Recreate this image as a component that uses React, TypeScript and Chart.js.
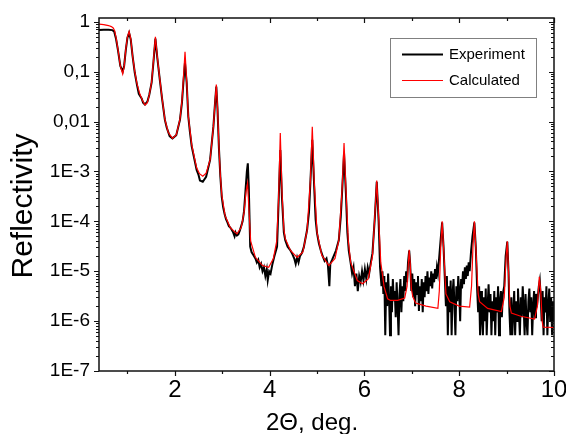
import React, { useEffect, useRef } from "react";
import { Chart, registerables } from "chart.js";

Chart.register(...registerables);

const seriesNames = ["Experiment", "Calculated"];
const xTitle = "2\u0398, deg.";
const yTitle = "Reflectivity";

const xTicks = [2, 4, 6, 8, 10];
const xTickLabels = ["2", "4", "6", "8", "10"];
const yTicks = [1, 0.1, 0.01, 1e-3, 1e-4, 1e-5, 1e-6, 1e-7];
const yTickLabels = ["1", "0,1", "0,01", "1E-3", "1E-4", "1E-5", "1E-6", "1E-7"];

const expX = [
  0.40, 0.50, 0.60, 0.68, 0.72, 0.76, 0.80, 0.85, 0.90, 0.93,
  0.965, 1.00, 1.035, 1.07, 1.11, 1.155, 1.20, 1.24, 1.27, 1.30,
  1.33, 1.37, 1.42, 1.46, 1.51, 1.55, 1.59, 1.63, 1.684, 1.73,
  1.79, 1.83, 1.86, 1.89, 1.95, 2.03, 2.108, 2.15, 2.18, 2.214,
  2.25, 2.284, 2.32, 2.356, 2.40, 2.46, 2.50, 2.53, 2.59, 2.66,
  2.744, 2.814, 2.85, 2.875, 2.90, 2.93, 2.96, 2.99, 3.02, 3.05,
  3.08, 3.11, 3.14, 3.17, 3.20, 3.23, 3.26, 3.28, 3.31, 3.34,
  3.37, 3.40, 3.43, 3.46, 3.49, 3.52, 3.54, 3.56, 3.59, 3.62,
  3.66, 3.70, 3.73, 3.76, 3.79, 3.82, 3.85, 3.88, 3.91, 3.94,
  3.96, 3.99, 4.02, 4.06, 4.10, 4.157, 4.19, 4.226, 4.26, 4.30,
  4.33, 4.38, 4.44, 4.48, 4.52, 4.55, 4.58, 4.61, 4.64, 4.68,
  4.72, 4.79, 4.83, 4.86, 4.90, 4.94, 4.97, 5.00, 5.04, 5.08,
  5.12, 5.16, 5.20, 5.23, 5.26, 5.28, 5.32, 5.36, 5.40, 5.46,
  5.50, 5.53, 5.57, 5.61, 5.64, 5.67, 5.71, 5.74, 5.77, 5.80,
  5.83, 5.86, 5.89, 5.92, 5.95, 5.98, 6.01, 6.04, 6.07, 6.10,
  6.13, 6.17, 6.22, 6.26, 6.30, 6.33, 6.36, 6.38, 6.40, 6.42,
  6.44, 6.46, 6.48, 6.50, 6.52, 6.54, 6.56, 6.58, 6.60, 6.62,
  6.64, 6.66, 6.68, 6.70, 6.72, 6.74, 6.76, 6.78, 6.80, 6.82,
  6.84, 6.86, 6.88, 6.90, 6.92, 6.945, 6.965, 6.99, 7.01, 7.03,
  7.05, 7.07, 7.09, 7.11, 7.13, 7.15, 7.17, 7.19, 7.21, 7.23,
  7.25, 7.27, 7.29, 7.31, 7.33, 7.35, 7.37, 7.39, 7.41, 7.43,
  7.45, 7.47, 7.49, 7.51, 7.53, 7.55, 7.58, 7.61, 7.64, 7.67,
  7.70, 7.72, 7.74, 7.76, 7.78, 7.80, 7.82, 7.84, 7.86, 7.88,
  7.90, 7.92, 7.94, 7.96, 7.98, 8.00, 8.02, 8.04, 8.06, 8.08,
  8.10, 8.12, 8.14, 8.16, 8.18, 8.20, 8.22, 8.25, 8.28, 8.32,
  8.35, 8.38, 8.40, 8.42, 8.44, 8.46, 8.48, 8.50, 8.52, 8.54,
  8.56, 8.58, 8.60, 8.62, 8.64, 8.66, 8.68, 8.70, 8.72, 8.74,
  8.76, 8.78, 8.80, 8.82, 8.84, 8.86, 8.88, 8.90, 8.92, 8.95,
  8.98, 9.015, 9.04, 9.06, 9.08, 9.10, 9.12, 9.14, 9.16, 9.18,
  9.20, 9.22, 9.24, 9.26, 9.28, 9.30, 9.32, 9.34, 9.36, 9.38,
  9.40, 9.42, 9.44, 9.46, 9.48, 9.50, 9.52, 9.54, 9.56, 9.58,
  9.60, 9.62, 9.65, 9.68, 9.70, 9.72, 9.74, 9.76, 9.78, 9.80,
  9.82, 9.84, 9.86, 9.88, 9.90, 9.92, 9.94, 9.96, 9.98, 10.0,
];

const expY = [
  0.68, 0.69, 0.69, 0.68, 0.64, 0.45, 0.27, 0.13, 0.10, 0.13,
  0.27, 0.48, 0.60, 0.44, 0.20, 0.095, 0.055, 0.036, 0.032, 0.029,
  0.024, 0.022, 0.025, 0.034, 0.060, 0.16, 0.46, 0.19, 0.068, 0.029,
  0.0108, 0.0075, 0.0062, 0.0051, 0.0046, 0.0053, 0.0108, 0.024, 0.060, 0.15,
  0.060, 0.0126, 0.0060, 0.0032, 0.0020, 0.00107, 0.00085, 0.00066, 0.00062, 0.00078,
  0.0017, 0.0080, 0.025, 0.050, 0.018, 0.0030, 0.00080, 0.00031, 0.00019, 0.00014,
  0.00011, 9.5e-5, 8.0e-5, 7.5e-5, 6.8e-5, 6.0e-5, 5.0e-5, 6.0e-5, 5.2e-5, 5.5e-5,
  6.5e-5, 8.0e-5, 1.0e-4, 1.6e-4, 4.0e-4, 1.0e-3, 1.46e-3, 5.0e-4, 3.1e-5, 2.4e-5,
  2.1e-5, 1.8e-5, 1.5e-5, 1.7e-5, 1.2e-5, 1.4e-5, 1.0e-5, 1.2e-5, 8.0e-6, 1.1e-5,
  6.6e-6, 1.0e-5, 9.0e-6, 1.4e-5, 2.0e-5, 3.1e-5, 2.5e-4, 2.7e-3, 3.0e-4, 6.0e-5,
  4.2e-5, 3.1e-5, 2.6e-5, 2.2e-5, 1.8e-5, 1.4e-5, 1.9e-5, 1.5e-5, 2.0e-5, 2.3e-5,
  3.0e-5, 6.7e-5, 1.5e-4, 6.0e-4, 4.3e-3, 5.0e-4, 1.1e-4, 5.8e-5, 3.6e-5, 2.6e-5,
  2.0e-5, 1.6e-5, 1.8e-5, 1.3e-5, 5.0e-6, 1.4e-5, 1.7e-5, 2.1e-5, 2.6e-5, 4.2e-5,
  1.2e-4, 4.0e-4, 2.3e-3, 3.5e-4, 6.0e-5, 2.6e-5, 1.45e-5, 9.0e-6, 1.2e-5, 5.0e-6,
  9.0e-6, 4.0e-6, 8.0e-6, 6.0e-6, 1.0e-5, 6.5e-6, 1.1e-5, 7.0e-6, 1.2e-5, 9.0e-6,
  1.4e-5, 2.3e-5, 1.2e-4, 6.2e-4, 1.0e-4, 1.2e-5, 5.0e-6, 1.0e-5, 3.5e-6, 8.0e-6,
  5.2e-7, 6.0e-6, 2.0e-6, 9.0e-6, 3.0e-6, 5.2e-7, 5.0e-6, 1.5e-6, 7.0e-6, 2.5e-6,
  4.0e-6, 1.2e-6, 6.0e-6, 2.0e-6, 5.2e-7, 3.5e-6, 7.0e-6, 1.5e-6, 5.0e-6, 2.5e-6,
  8.0e-6, 4.0e-6, 1.0e-5, 6.0e-6, 1.5e-5, 2.6e-5, 1.4e-5, 4.0e-6, 9.0e-6, 3.0e-6,
  7.0e-6, 2.0e-6, 6.0e-6, 3.5e-6, 8.0e-6, 1.6e-6, 5.0e-6, 2.5e-6, 7.0e-6, 1.5e-6,
  6.0e-6, 3.0e-6, 8.0e-6, 4.0e-6, 1.0e-5, 3.5e-6, 7.5e-6, 5.0e-6, 1.0e-5, 4.5e-6,
  9.0e-6, 6.0e-6, 1.1e-5, 7.0e-6, 1.2e-5, 9.0e-6, 2.0e-5, 4.5e-5, 9.5e-5, 3.0e-5,
  6.0e-6, 2.0e-6, 8.0e-6, 5.2e-7, 5.0e-6, 1.5e-6, 6.5e-6, 5.2e-7, 3.5e-6, 7.0e-6,
  2.0e-6, 5.2e-7, 5.0e-6, 2.5e-6, 8.0e-6, 4.0e-6, 1.0e-6, 7.0e-6, 4.5e-6, 1.0e-5,
  5.5e-6, 1.2e-5, 7.0e-6, 1.3e-5, 8.0e-6, 1.5e-5, 1.0e-5, 2.5e-5, 5.0e-5, 9.5e-5,
  3.0e-5, 4.0e-6, 1.5e-6, 5.0e-6, 5.2e-7, 4.0e-6, 1.2e-6, 5.2e-7, 3.0e-6, 1.0e-6,
  4.5e-6, 5.2e-7, 2.0e-6, 5.5e-6, 1.5e-6, 3.5e-6, 5.2e-7, 2.5e-6, 1.0e-6, 4.0e-6,
  5.2e-7, 3.0e-6, 1.5e-6, 5.0e-6, 5.2e-7, 2.5e-6, 4.0e-6, 1.2e-6, 3.5e-6, 5.0e-6,
  2.0e-5, 3.9e-5, 1.0e-5, 1.5e-6, 5.2e-7, 3.0e-6, 5.2e-7, 1.5e-6, 4.0e-6, 5.2e-7,
  2.5e-6, 1.0e-6, 4.5e-6, 1.5e-6, 5.2e-7, 3.0e-6, 1.2e-6, 5.0e-6, 2.0e-6, 5.2e-7,
  3.5e-6, 1.0e-6, 5.2e-7, 2.5e-6, 4.5e-6, 1.5e-6, 3.0e-6, 5.2e-7, 2.0e-6, 4.0e-6,
  1.2e-6, 3.5e-6, 2.5e-6, 5.0e-6, 6.5e-6, 3.0e-6, 1.0e-6, 4.0e-6, 5.2e-7, 3.0e-6,
  1.5e-6, 5.0e-6, 5.2e-7, 2.0e-6, 4.5e-6, 1.0e-6, 3.0e-6, 5.2e-7, 2.5e-6, 1.0e-6,
];

const calcX = [
  0.40, 0.50, 0.60, 0.66, 0.70, 0.73, 0.76, 0.80, 0.85, 0.90,
  0.93, 0.965, 1.00, 1.035, 1.07, 1.11, 1.155, 1.20, 1.26, 1.32,
  1.37, 1.42, 1.46, 1.51, 1.55, 1.59, 1.63, 1.684, 1.73, 1.79,
  1.86, 1.95, 2.03, 2.108, 2.15, 2.18, 2.215, 2.25, 2.284, 2.356,
  2.46, 2.52, 2.59, 2.66, 2.744, 2.814, 2.85, 2.875, 2.90, 2.93,
  2.96, 2.99, 3.06, 3.17, 3.31, 3.40, 3.46, 3.50, 3.535, 3.56,
  3.60, 3.70, 3.85, 3.98, 4.08, 4.15, 4.19, 4.225, 4.26, 4.30,
  4.33, 4.44, 4.58, 4.70, 4.79, 4.86, 4.90, 4.94, 5.00, 5.10,
  5.25, 5.38, 5.46, 5.53, 5.57, 5.61, 5.66, 5.71, 5.85, 5.96,
  6.08, 6.17, 6.22, 6.26, 6.30, 6.345, 6.415, 6.49, 6.55, 6.70,
  6.85, 6.90, 6.93, 6.945, 6.965, 6.99, 7.02, 7.08, 7.30, 7.55,
  7.58, 7.61, 7.64, 7.67, 7.72, 7.80, 8.00, 8.22, 8.26, 8.29,
  8.32, 8.35, 8.40, 8.43, 8.60, 8.89, 8.95, 8.99, 9.015, 9.04,
  9.07, 9.10, 9.30, 9.59, 9.65, 9.69, 9.72, 9.75, 9.77, 10.0,
];

const calcY = [
  0.90, 0.88, 0.84, 0.80, 0.75, 0.66, 0.48, 0.28, 0.13, 0.090,
  0.125, 0.28, 0.50, 0.64, 0.46, 0.20, 0.10, 0.058, 0.036, 0.026,
  0.0215, 0.024, 0.034, 0.062, 0.17, 0.50, 0.20, 0.070, 0.030, 0.0110,
  0.0061, 0.0046, 0.0054, 0.0110, 0.026, 0.070, 0.25, 0.065, 0.0130, 0.0034,
  0.00118, 0.00090, 0.00080, 0.00092, 0.0017, 0.0080, 0.026, 0.055, 0.020, 0.0032,
  0.00085, 0.00034, 0.00013, 7.5e-5, 5.6e-5, 7.5e-5, 1.5e-4, 3.8e-4, 5.8e-4, 2.0e-4,
  4.0e-5, 1.9e-5, 1.3e-5, 1.2e-5, 1.8e-5, 4.0e-5, 3.0e-4, 5.9e-3, 4.0e-4, 7.0e-5,
  4.5e-5, 2.6e-5, 1.9e-5, 2.4e-5, 6.5e-5, 6.5e-4, 7.9e-3, 6.5e-4, 6.0e-5, 2.1e-5,
  1.3e-5, 1.8e-5, 4.2e-5, 4.5e-4, 3.7e-3, 4.5e-4, 4.0e-5, 1.5e-5, 6.5e-6, 5.6e-6,
  7.0e-6, 2.0e-5, 1.3e-4, 6.6e-4, 1.2e-4, 1.5e-5, 4.9e-6, 2.8e-6, 2.6e-6, 2.6e-6,
  2.9e-6, 5.0e-6, 1.6e-5, 2.7e-5, 1.5e-5, 4.5e-6, 3.1e-6, 2.3e-6, 2.0e-6, 1.8e-6,
  4.0e-6, 3.0e-5, 1.0e-4, 3.0e-5, 3.5e-6, 2.45e-6, 2.0e-6, 1.9e-6, 5.0e-6, 3.0e-5,
  1.0e-4, 3.0e-5, 3.5e-6, 2.45e-6, 1.8e-6, 1.55e-6, 3.0e-6, 2.0e-5, 4.0e-5, 1.0e-5,
  2.0e-6, 1.45e-6, 1.25e-6, 1.1e-6, 2.0e-6, 7.7e-6, 4.0e-6, 1.0e-6, 7.6e-7, 7.5e-7,
];

const FONT = "'Liberation Sans', Arial, Helvetica, sans-serif";

function pairs(xs: number[], ys: number[]) {
  const n = Math.min(xs.length, ys.length);
  const out: { x: number; y: number }[] = [];
  for (let i = 0; i < n; i++) out.push({ x: xs[i], y: ys[i] });
  return out;
}

const framePlugin = {
  id: "originFrame",
  afterDraw(chart: any) {
    const { ctx, chartArea: a, scales } = chart;
    const xs = scales.x;
    const ys = scales.y;
    ctx.save();
    ctx.strokeStyle = "#111";
    ctx.lineWidth = 1.5;
    ctx.strokeRect(a.left, a.top, a.right - a.left, a.bottom - a.top);
    ctx.lineWidth = 1.2;
    ctx.beginPath();
    for (let v = 1; v <= 10; v++) {
      if (v < xs.min || v > xs.max) continue;
      const px = Math.round(xs.getPixelForValue(v)) + 0.5;
      const len = v % 2 === 0 ? 5 : 3;
      ctx.moveTo(px, a.bottom);
      ctx.lineTo(px, a.bottom + len);
      ctx.moveTo(px, a.top);
      ctx.lineTo(px, a.top + len);
    }
    for (let e = -7; e <= 0; e++) {
      for (let m = 1; m <= 9; m++) {
        const v = m * Math.pow(10, e);
        if (v < ys.min * 0.999 || v > ys.max) continue;
        const py = Math.round(ys.getPixelForValue(v)) + 0.5;
        const len = m === 1 ? 5 : 3;
        ctx.moveTo(a.left - len, py);
        ctx.lineTo(a.left, py);
        ctx.moveTo(a.right - len, py);
        ctx.lineTo(a.right, py);
      }
    }
    ctx.stroke();

    ctx.fillStyle = "#000";
    ctx.font = `30px ${FONT}`;
    ctx.save();
    ctx.translate(31.5, 206);
    ctx.rotate(-Math.PI / 2);
    ctx.textAlign = "center";
    ctx.textBaseline = "alphabetic";
    ctx.fillText(yTitle, 0, 0);
    ctx.restore();

    ctx.font = `24px ${FONT}`;
    ctx.textAlign = "left";
    ctx.textBaseline = "alphabetic";
    ctx.fillText(xTitle, 266, 430);

    ctx.strokeStyle = "#808080";
    ctx.lineWidth = 1;
    ctx.strokeRect(390.5, 38.5, 146, 59);
    ctx.strokeStyle = "#000";
    ctx.lineWidth = 2;
    ctx.beginPath();
    ctx.moveTo(402, 54.5);
    ctx.lineTo(443, 54.5);
    ctx.stroke();
    ctx.strokeStyle = "#ff0000";
    ctx.lineWidth = 1;
    ctx.beginPath();
    ctx.moveTo(402, 80.5);
    ctx.lineTo(443, 80.5);
    ctx.stroke();
    ctx.fillStyle = "#000";
    ctx.font = `15px ${FONT}`;
    ctx.textBaseline = "middle";
    ctx.fillText(seriesNames[0], 449, 55);
    ctx.fillText(seriesNames[1], 449, 81);
    ctx.restore();
  },
};

export default function App() {
  const ref = useRef<HTMLCanvasElement | null>(null);

  useEffect(() => {
    document.body.style.margin = "0";
    const canvas = ref.current;
    if (!canvas) return;
    Chart.defaults.font.family = FONT;
    const chart = new Chart(canvas, {
      type: "scatter",
      data: {
        datasets: [
          {
            label: seriesNames[0],
            data: pairs(expX, expY),
            showLine: true,
            borderColor: "#000000",
            backgroundColor: "#000000",
            borderWidth: 2,
            pointRadius: 0,
            tension: 0,
            order: 2,
          },
          {
            label: seriesNames[1],
            data: pairs(calcX, calcY),
            showLine: true,
            borderColor: "#ff0000",
            backgroundColor: "#ff0000",
            borderWidth: 1.2,
            pointRadius: 0,
            tension: 0,
            order: 1,
          },
        ],
      },
      options: {
        animation: false,
        responsive: false,
        devicePixelRatio: 1,
        layout: { padding: { left: 0, right: 12, top: 18, bottom: 0 } },
        plugins: {
          legend: { display: false },
          tooltip: { enabled: false },
        },
        scales: {
          x: {
            type: "linear",
            min: 0.4,
            max: 10,
            bounds: "data",
            grid: { display: false, drawTicks: false },
            border: { display: false },
            ticks: {
              font: { family: FONT, size: 24 },
              color: "#000",
              padding: 5,
              maxRotation: 0,
              autoSkip: false,
              callback: (_v: any, i: number) => xTickLabels[i],
            },
            afterBuildTicks: (s: any) => {
              s.ticks = xTicks.map((v) => ({ value: v }));
            },
            afterFit: (s: any) => {
              s.height = 63;
              s.paddingLeft = 0;
              s.paddingRight = 0;
            },
          },
          y: {
            type: "logarithmic",
            min: 1e-7,
            max: 1.19,
            bounds: "data",
            grid: { display: false, drawTicks: false },
            border: { display: false },
            ticks: {
              font: { family: FONT, size: 19 },
              color: "#000",
              padding: 9,
              autoSkip: false,
              callback: (_v: any, i: number) => yTickLabels[i],
            },
            afterBuildTicks: (s: any) => {
              s.ticks = yTicks.map((v) => ({ value: v }));
            },
            afterFit: (s: any) => {
              s.width = 99;
              s.paddingTop = 0;
              s.paddingBottom = 0;
            },
          },
        },
      },
      plugins: [framePlugin],
    } as any);
    return () => chart.destroy();
  }, []);

  return (
    <div style={{ width: 566, height: 434, position: "relative", background: "#fff" }}>
      <canvas ref={ref} width={566} height={434} style={{ display: "block" }} />
    </div>
  );
}
